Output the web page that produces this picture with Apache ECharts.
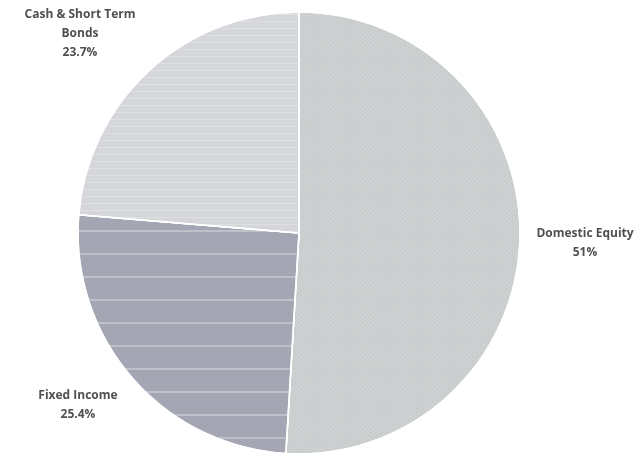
<!DOCTYPE html>
<html>
<head>
<meta charset="utf-8">
<script src="https://cdn.jsdelivr.net/npm/echarts@6/dist/echarts.min.js"></script>
<style>html,body{margin:0;padding:0;background:#fff}#c{width:640px;height:458px}</style>
</head>
<body>
<div id="c"></div>
<script>
var categories = ['Domestic Equity', 'Fixed Income', 'Cash & Short Term\nBonds'];
var values = [51, 25.4, 23.7];
var valueLabels = ['51%', '25.4%', '23.7%'];

var colors = ['#c9cdcd', '#a4a7b3', '#d4d6da'];
var decals = [
  { symbol: 'rect', symbolSize: 1, color: 'rgba(255,255,255,0.35)', dashArrayX: [1, 2], dashArrayY: [1, 2], rotation: Math.PI / 4 },
  { symbol: 'rect', symbolSize: 1, color: 'rgba(215,218,226,0.5)', dashArrayX: [1, 0], dashArrayY: [2, 21], rotation: 0 },
  { symbol: 'rect', symbolSize: 1, color: 'rgba(232,233,236,0.5)', dashArrayX: [1, 0], dashArrayY: [1, 6], rotation: 0 }
];
var labelPos = [[585, 243], [78, 405.5], [80, 33.5]];

var chart = echarts.init(document.getElementById('c'), null, { renderer: 'canvas' });
chart.setOption({
  animation: false,
  aria: { enabled: true, decal: { show: true } },
  series: [{
    type: 'pie',
    center: [299, 233],
    radius: 221,
    startAngle: 90,
    clockwise: true,
    data: categories.map(function (c, i) {
      return {
        name: c,
        value: values[i],
        itemStyle: { color: colors[i], decal: decals[i] }
      };
    }),
    itemStyle: { borderColor: '#ffffff', borderWidth: 1.5 },
    label: {
      show: true,
      position: 'outside',
      formatter: function (p) { return p.name + '\n' + valueLabels[p.dataIndex]; },
      fontFamily: 'Open Sans',
      fontWeight: 'bold',
      fontSize: 12,
      lineHeight: 19,
      color: '#505050',
      align: 'center',
      overflow: 'none'
    },
    labelLine: { show: false, length: 10, length2: 0 },
    labelLayout: function (p) {
      var pos = labelPos[p.dataIndex];
      return { x: pos[0], y: pos[1], align: 'center', verticalAlign: 'middle' };
    },
    emphasis: { disabled: true }
  }]
});
</script>
</body>
</html>
